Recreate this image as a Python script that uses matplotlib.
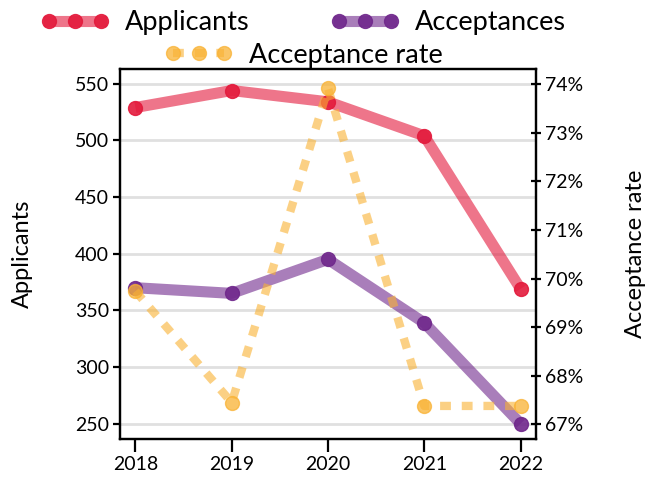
import matplotlib
matplotlib.use("Agg")
import matplotlib.pyplot as plt
from matplotlib.ticker import FuncFormatter
from matplotlib.lines import Line2D

# Data
years = [2018, 2019, 2020, 2021, 2022]
applicants = [529, 544, 534, 504, 369]
acceptances = [370, 365, 395, 339, 250]
acceptance_rate = [69.74, 67.45, 73.91, 67.38, 67.38]

red = "#E31A3C"
purple = "#70288C"
orange = "#F9B233"
dots = (0, (1.3, 1.3))

plt.rcParams["font.family"] = ["Lato", "DejaVu Sans"]

fig = plt.figure(figsize=(6.46, 4.79), dpi=100)
ax = fig.add_axes([0.1858, 0.0835, 0.6439, 0.7725])
ax2 = ax.twinx()

# gridlines on the left axis
for v in [250, 300, 350, 400, 450, 500, 550]:
    ax.axhline(v, color="#e0e0e0", lw=2, zorder=0)

ax.plot(years, applicants, color=red, alpha=0.6, lw=8, solid_capstyle="butt", zorder=2)
ax.plot(years, applicants, "o", color=red, alpha=0.9, ms=10, zorder=3)
ax.plot(years, acceptances, color=purple, alpha=0.6, lw=8, solid_capstyle="butt", zorder=2)
ax.plot(years, acceptances, "o", color=purple, alpha=0.9, ms=10, zorder=3)
ax2.plot(years, acceptance_rate, color=orange, alpha=0.6, lw=6, linestyle=dots, zorder=2)
ax2.plot(years, acceptance_rate, "o", color=orange, alpha=0.75, ms=10, zorder=3)

ax.set_xlim(2017.84, 2022.16)
ax.set_ylim(236.5, 563)
ax2.set_ylim(66.7, 74.31)
ax.set_xticks(years)
ax.set_yticks([250, 300, 350, 400, 450, 500, 550])
ax2.set_yticks([67, 68, 69, 70, 71, 72, 73, 74])
ax2.yaxis.set_major_formatter(FuncFormatter(lambda v, p: f"{v:.0f}%"))

for s in list(ax.spines.values()) + list(ax2.spines.values()):
    s.set_linewidth(1.6)

# x labels kept just inside the bottom edge (the reference crops them)
ax.tick_params(axis="x", direction="out", length=9, width=1.6, labelsize=14, pad=3)
ax.tick_params(axis="y", direction="out", length=5, width=1.6, labelsize=14, pad=3)
ax2.tick_params(axis="y", direction="inout", length=7, width=1.6, labelsize=14, pad=3)

ax.set_ylabel("Applicants", fontsize=17, labelpad=30)
ax2.set_ylabel("Acceptance rate", fontsize=17, labelpad=30)

# legend handles: thick line with three dots
h1 = (Line2D([], [], color=red, alpha=0.6, lw=8),
      Line2D([], [], ls="", marker="o", color=red, alpha=0.9, ms=10))
h2 = (Line2D([], [], color=purple, alpha=0.6, lw=8),
      Line2D([], [], ls="", marker="o", color=purple, alpha=0.9, ms=10))
h3 = (Line2D([], [], color=orange, alpha=0.6, lw=6, ls=dots),
      Line2D([], [], ls="", marker="o", color=orange, alpha=0.75, ms=10))

fig.legend([h1, h2], ["Applicants", "Acceptances"], ncol=2, loc="center",
           bbox_to_anchor=(0.47, 0.952), frameon=False, fontsize=19.5, numpoints=3,
           handlelength=2.5, handletextpad=0.6, columnspacing=3.0)
fig.legend([h3], ["Acceptance rate"], loc="center",
           bbox_to_anchor=(0.47, 0.885), frameon=False, fontsize=19.5, numpoints=3,
           handlelength=2.5, handletextpad=0.6)

fig.savefig("out.png", dpi=100)
